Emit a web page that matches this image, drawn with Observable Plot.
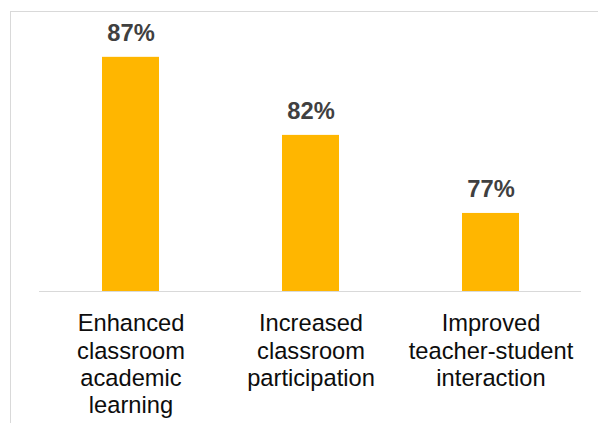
<!DOCTYPE html>
<html>
<head>
<meta charset="utf-8">
<script src="https://cdn.jsdelivr.net/npm/d3@7"></script>
<script src="https://cdn.jsdelivr.net/npm/@observablehq/plot@0.6"></script>
<style>
  html, body { margin: 0; padding: 0; background: #fff; overflow: hidden; }
  #wrap { position: relative; width: 598px; height: 423px; overflow: hidden; }
  #border { position: absolute; left: 10px; top: 11px; width: 620px; height: 440px; border: 1.3px solid #d9d9d9; box-sizing: border-box; }
  #chart { position: absolute; left: 0; top: 0; }
</style>
</head>
<body>
<div id="wrap"><div id="border"></div><div id="chart"></div></div>
<script>
const categories = ["Enhanced classroom academic learning", "Increased classroom participation", "Improved teacher-student interaction"];
const tickLabels = ["Enhanced\nclassroom\nacademic\nlearning", "Increased\nclassroom\nparticipation", "Improved\nteacher-student\ninteraction"];
const values = [87, 82, 77];

const data = categories.map((c, i) => ({category: c, value: values[i], label: values[i] + "%"}));
const labelOf = new Map(categories.map((c, i) => [c, tickLabels[i]]));

const font = "'Liberation Sans', Arial, sans-serif";

const chart = Plot.plot({
  width: 598,
  height: 423,
  marginLeft: 39,
  marginRight: 17,
  marginTop: 10,
  marginBottom: 132,
  style: {fontFamily: font, background: "transparent", overflow: "visible"},
  x: {domain: categories, paddingInner: 0.685, paddingOuter: 0.3425, align: 0.5, label: null},
  y: {domain: [72, 90], axis: null},
  marks: [
    Plot.barY(data, {x: "category", y1: 72, y2: "value", fill: "#FFB600"}),
    Plot.ruleY([72], {stroke: "#d9d9d9", strokeWidth: 1}),
    Plot.text(data, {x: "category", y: "value", text: "label", lineAnchor: "bottom", dy: -16, fontSize: 23.7, fontWeight: "bold", fill: "#404040"}),
    Plot.axisX({tickSize: 0, tickPadding: 20, fontSize: 23.7, lineHeight: 1.16, fill: "#0d0d0d", tickFormat: d => labelOf.get(d), label: null})
  ]
});
document.getElementById("chart").appendChild(chart);
</script>
</body>
</html>
